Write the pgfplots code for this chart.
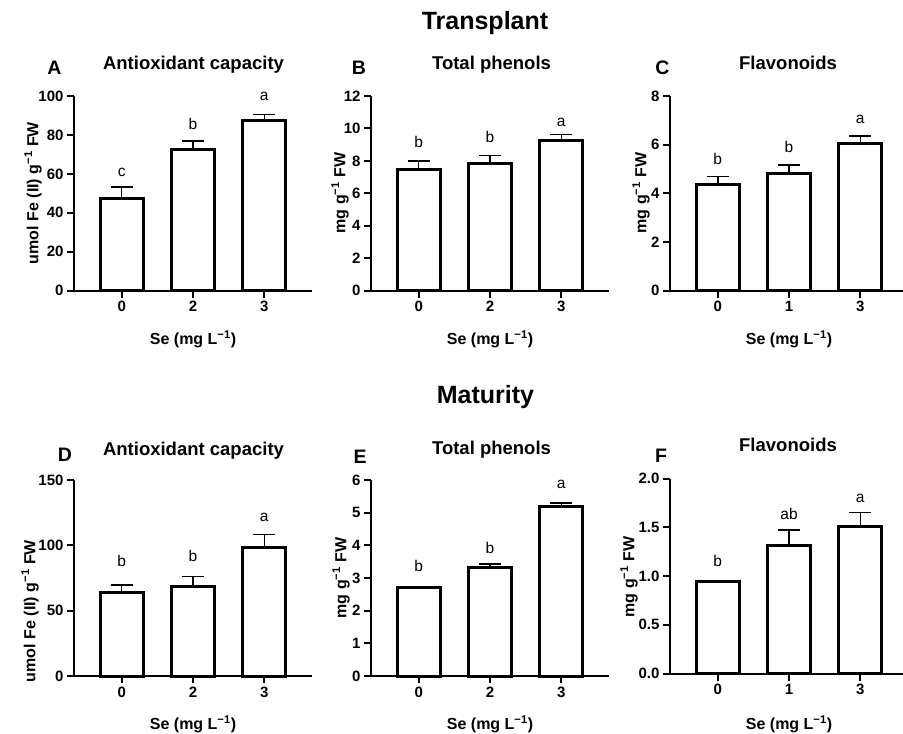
\documentclass[border=0pt]{standalone}
\usepackage{pgfplots}
\pgfplotsset{compat=1.18}
\usepackage{fontspec}
\setmainfont{Liberation Sans}
\newcommand{\fs}[1]{\fontsize{#1}{#1}\selectfont}
\pgfplotsset{
  panel/.style={
    scale only axis, width=238bp, anchor=south west,
    xmin=-0.67, xmax=2.67, ymin=0,
    axis x line*=bottom, axis y line*=left,
    axis line style={line width=2bp,-},
    tick align=outside, major tick length=7bp,
    tick style={line width=2bp, black},
    xtick={0,1,2},
    ticklabel style={font=\fs{15bp}\bfseries},
    /pgf/number format/assume math mode=true,
    clip=false,
  },
  barsty/.style={ybar, bar width=43bp, fill=white, draw=black, line width=3bp,
    error bars/.cd, y dir=plus, y explicit,
    error bar style={line width=1.5bp, black},
    error mark options={rotate=90, line width=1.5bp, mark size=11bp, black}},
  labsty/.style={only marks, mark=none, nodes near coords, point meta=explicit symbolic,
    nodes near coords style={anchor=base, font=\fs{15.5bp}, black, inner sep=0pt}},
}
\begin{document}
\begin{tikzpicture}
\path[use as bounding box] (0,0) rectangle (903bp,-734bp);
% ---------- Row 1 ----------
\begin{axis}[panel, at={(74bp,-290.7bp)}, height=194.7bp, ymax=100, ytick={0,20,40,60,80,100}, xticklabels={0,2,3}]
\addplot[barsty] table[x=x,y=y,y error=e]{
x y e
0 47.5 5.8
1 72.3 4.7
2 87.2 3.2
};
\addplot[labsty] table[x=x,y=l,meta=t]{
x l t
0 58.4 c
1 82.9 b
2 97.6 a
};
\end{axis}
\begin{axis}[panel, at={(371bp,-290.7bp)}, height=194.7bp, ymax=12, ytick={0,2,4,6,8,10,12}, xticklabels={0,2,3}]
\addplot[barsty] table[x=x,y=y,y error=e]{
x y e
0 7.50 0.49
1 7.85 0.49
2 9.23 0.41
};
\addplot[labsty] table[x=x,y=l,meta=t]{
x l t
0 8.82 b
1 9.15 b
2 10.15 a
};
\end{axis}
\begin{axis}[panel, at={(670bp,-290.7bp)}, height=194.7bp, ymax=8, ytick={0,2,4,6,8}, xticklabels={0,1,3}]
\addplot[barsty] table[x=x,y=y,y error=e]{
x y e
0 4.37 0.33
1 4.80 0.36
2 6.06 0.30
};
\addplot[labsty] table[x=x,y=l,meta=t]{
x l t
0 5.17 b
1 5.67 b
2 6.85 a
};
\end{axis}
% ---------- Row 2 ----------
\begin{axis}[panel, at={(74bp,-676bp)}, height=196bp, ymax=150, ytick={0,50,100,150}, xticklabels={0,2,3}]
\addplot[barsty] table[x=x,y=y,y error=e]{
x y e
0 63.8 5.8
1 68.4 7.6
2 98.5 9.9
};
\addplot[labsty] table[x=x,y=l,meta=t]{
x l t
0 83.6 b
1 87.5 b
2 118.1 a
};
\end{axis}
\begin{axis}[panel, at={(371bp,-676bp)}, height=196bp, ymax=6, ytick={0,1,2,3,4,5,6}, xticklabels={0,2,3}]
\addplot[barsty] table[x=x,y=y,y error=e]{
x y e
0 2.70 0.04
1 3.32 0.11
2 5.20 0.09
};
\addplot[labsty] table[x=x,y=l,meta=t]{
x l t
0 3.19 b
1 3.76 b
2 5.75 a
};
\end{axis}
\begin{axis}[panel, at={(670bp,-673.5bp)}, height=195bp, ymax=2, ytick={0,0.5,1,1.5,2},
  yticklabel style={/pgf/number format/.cd, fixed, fixed zerofill, precision=1}, xticklabels={0,1,3}]
\addplot[barsty] table[x=x,y=y,y error=e]{
x y e
0 0.94 0.01
1 1.31 0.16
2 1.51 0.14
};
\addplot[labsty] table[x=x,y=l,meta=t]{
x l t
0 1.10 b
1 1.58 ab
2 1.75 a
};
\end{axis}
% ---------- Titles ----------
\node[anchor=base, font=\fs{25bp}\bfseries] at (485bp,-29.3bp) {Transplant};
\node[anchor=base, font=\fs{25bp}\bfseries] at (485.5bp,-403bp) {Maturity};
\foreach \x/\t in {193.5/Antioxidant capacity, 491.5/Total phenols, 788/Flavonoids}
  \node[anchor=base, font=\fs{18.5bp}\bfseries] at (\x bp,-69.3bp) {\t};
\node[anchor=base, font=\fs{18.5bp}\bfseries] at (193.5bp,-455bp) {Antioxidant capacity};
\node[anchor=base, font=\fs{18.5bp}\bfseries] at (491.5bp,-454bp) {Total phenols};
\node[anchor=base, font=\fs{18.5bp}\bfseries] at (788bp,-451.7bp) {Flavonoids};
\foreach \x/\y/\t in {54.5/74.3/A, 359/74.3/B, 662.5/74.3/C, 65/461.7/D, 360/463/E, 661/462.7/F}
  \node[anchor=base, font=\fs{19.5bp}\bfseries] at (\x bp,-\y bp) {\t};
% ---------- Axis labels ----------
\foreach \x/\y in {193/339, 490/339, 789/339, 193/724, 490/724, 789/724}
  \node[font=\fs{16bp}\bfseries] at (\x bp,-\y bp) {Se (mg L\textsuperscript{−1})};
\node[rotate=90, font=\fs{16bp}\bfseries] at (33bp,-193bp) {umol Fe (II) g\textsuperscript{−1} FW};
\node[rotate=90, font=\fs{16bp}\bfseries] at (30bp,-611bp) {umol Fe (II) g\textsuperscript{−1} FW};
\foreach \x/\y in {340/193, 641/193, 341/578, 629/577}
  \node[rotate=90, font=\fs{16bp}\bfseries] at (\x bp,-\y bp) {mg g\textsuperscript{−1} FW};
\end{tikzpicture}
\end{document}
